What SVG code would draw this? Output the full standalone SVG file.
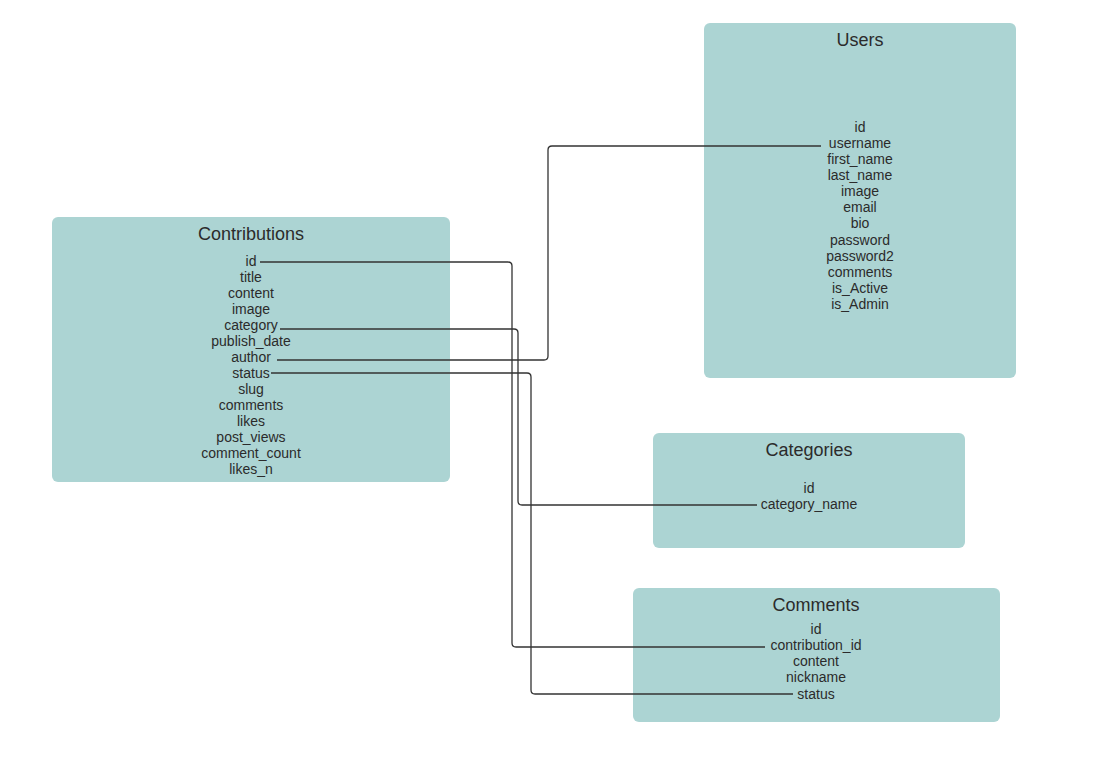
<svg xmlns="http://www.w3.org/2000/svg" width="1108" height="761" viewBox="0 0 1108 761">
<style>
.box{fill:#acd4d3;}
.t{font-family:"Liberation Sans",Arial,sans-serif;font-size:18px;fill:#2b2b2b;text-anchor:middle;}
.f{font-family:"Liberation Sans",Arial,sans-serif;font-size:14px;fill:#2b2b2b;text-anchor:middle;}
.c{fill:none;stroke:#333;stroke-width:1.3;}
</style>
<rect width="1108" height="761" fill="#fff"/>
<g id="users">
<rect class="box" x="704" y="23" width="312" height="355" rx="6"/>
<text class="t" x="860" y="46">Users</text>
<text class="f" x="860" y="132">id</text>
<text class="f" x="860" y="148">username</text>
<text class="f" x="860" y="164">first_name</text>
<text class="f" x="860" y="180">last_name</text>
<text class="f" x="860" y="196">image</text>
<text class="f" x="860" y="212">email</text>
<text class="f" x="860" y="228">bio</text>
<text class="f" x="860" y="245">password</text>
<text class="f" x="860" y="261">password2</text>
<text class="f" x="860" y="277">comments</text>
<text class="f" x="860" y="293">is_Active</text>
<text class="f" x="860" y="309">is_Admin</text>
</g>
<g id="contributions">
<rect class="box" x="52" y="217" width="398" height="265" rx="6"/>
<text class="t" x="251" y="240">Contributions</text>
<text class="f" x="251" y="266">id</text>
<text class="f" x="251" y="282">title</text>
<text class="f" x="251" y="298">content</text>
<text class="f" x="251" y="314">image</text>
<text class="f" x="251" y="330">category</text>
<text class="f" x="251" y="346">publish_date</text>
<text class="f" x="251" y="362">author</text>
<text class="f" x="251" y="378">status</text>
<text class="f" x="251" y="394">slug</text>
<text class="f" x="251" y="410">comments</text>
<text class="f" x="251" y="426">likes</text>
<text class="f" x="251" y="442">post_views</text>
<text class="f" x="251" y="458">comment_count</text>
<text class="f" x="251" y="474">likes_n</text>
</g>
<g id="categories">
<rect class="box" x="653" y="433" width="312" height="115" rx="6"/>
<text class="t" x="809" y="456">Categories</text>
<text class="f" x="809" y="493">id</text>
<text class="f" x="809" y="509">category_name</text>
</g>
<g id="comments">
<rect class="box" x="633" y="588" width="367" height="134" rx="6"/>
<text class="t" x="816" y="611">Comments</text>
<text class="f" x="816" y="634">id</text>
<text class="f" x="816" y="650">contribution_id</text>
<text class="f" x="816" y="666">content</text>
<text class="f" x="816" y="682">nickname</text>
<text class="f" x="816" y="699">status</text>
</g>
<g id="connectors">
<path class="c" d="M260 262 H508 Q512 262 512 266 V643 Q512 647 516 647 H765"/>
<path class="c" d="M280 329 H514 Q518 329 518 333 V501 Q518 505 522 505 H757"/>
<path class="c" d="M277 360 H544 Q548 360 548 356 V150 Q548 146 552 146 H821"/>
<path class="c" d="M271 373 H527 Q531 373 531 377 V690 Q531 694 535 694 H793"/>
</g>
</svg>
